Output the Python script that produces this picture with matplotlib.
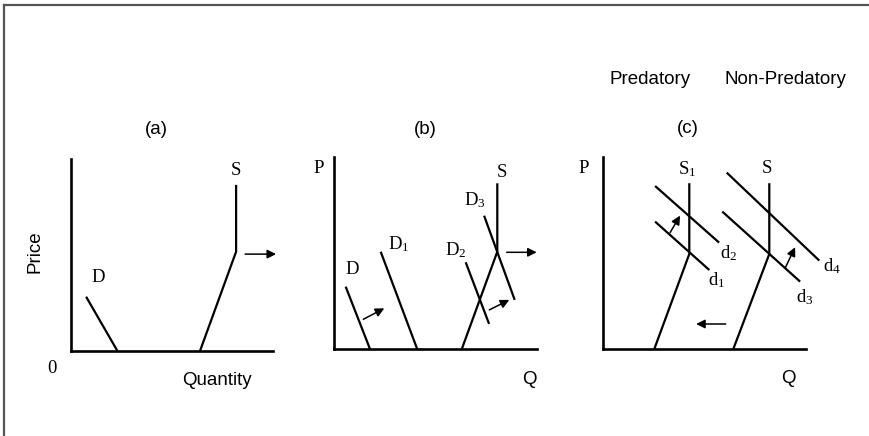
"""
Three supply/demand sketches: (a), (b) and the predatory / non-predatory case (c).
"""

import matplotlib
import matplotlib.pyplot as plt
from matplotlib.lines import Line2D

matplotlib.use('Agg')
plt.rcParams['mathtext.default'] = 'regular'

SANS = 'Liberation Sans'
SERIF = 'Liberation Serif'

# Curves are given as (Q, P) points, origin at the corner of each panel
# panel (a)
a_demand_q = [0.77, 2.33]
a_demand_p = [2.70, 0.0]
a_supply_q = [6.47, 8.27, 8.27]
a_supply_p = [0.0, 4.95, 8.29]

# panel (b)
b_demand = {
    'D': ([0.57, 1.79], [3.13, 0.0]),
    'D$_1$': ([2.32, 4.15], [4.88, 0.0]),
    'D$_2$': ([6.57, 7.74], [4.35, 1.27]),
    'D$_3$': ([7.49, 9.02], [6.68, 2.47]),
}
b_supply_q = [6.37, 8.15, 8.15]
b_supply_p = [0.0, 4.88, 8.30]

# panel (c)
c_supply = {
    'S$_1$': ([2.55, 4.30, 4.30], [0.0, 4.75, 8.29]),
    'S': ([6.50, 8.30, 8.30], [0.0, 4.75, 8.29]),
}
c_demand = {
    'd$_1$': ([2.59, 5.30], [6.37, 3.95]),
    'd$_2$': ([2.59, 5.79], [8.15, 5.32]),
    'd$_3$': ([5.95, 9.84], [6.87, 3.37]),
    'd$_4$': ([6.17, 10.80], [8.82, 4.42]),
}

# label positions (Q, P)
b_demand_labels = {'D': (0.92, 3.97), 'D$_1$': (3.22, 5.27),
                   'D$_2$': (6.05, 4.97), 'D$_3$': (7.05, 7.47)}
c_supply_labels = {'S$_1$': (4.18, 8.99), 'S': (8.17, 9.04)}
c_demand_labels = {'d$_1$': (5.67, 3.45), 'd$_2$': (6.29, 4.79),
                   'd$_3$': (10.09, 2.59), 'd$_4$': (11.44, 4.12)}

W, H = 869, 436
UNIT = 20.0  # pixels per data unit


def make_panel(fig, x0, y0, w, h):
    """Axes whose lower-left corner sits at pixel (x0, y0) from top-left."""
    ax = fig.add_axes([x0 / W, (H - y0) / H, w / W, h / H])
    ax.set_xlim(0, w / UNIT)
    ax.set_ylim(0, h / UNIT)
    for side in ['top', 'right']:
        ax.spines[side].set_visible(False)
    for side in ['left', 'bottom']:
        ax.spines[side].set_linewidth(1.9)
    ax.set_xticks([])
    ax.set_yticks([])
    ax.patch.set_alpha(0)
    return ax


def curve(ax, q, p):
    ax.plot(q, p, color='black', lw=1.6, solid_capstyle='butt', clip_on=False)


def arrow(ax, start, end):
    ax.annotate('', xy=end, xytext=start, annotation_clip=False,
                arrowprops=dict(arrowstyle='-|>', color='black', lw=1.1,
                                mutation_scale=13, shrinkA=0, shrinkB=0))


def serif(ax, x, y, s):
    ax.text(x, y, s, family=SERIF, fontsize=13.5, ha='center', va='center')


def sans(ax, x, y, s, **kw):
    ax.text(x, y, s, family=SANS, fontsize=13.5, ha='center', va='center', **kw)


fig = plt.figure(figsize=(W / 100, H / 100), dpi=100)

# frame of the picture (top and left edges only)
fig.add_artist(Line2D([4 / W, 1], [1 - 5 / H, 1 - 5 / H], color='#555555',
                      lw=1.6, transform=fig.transFigure))
fig.add_artist(Line2D([4 / W, 4 / W], [0, 1 - 5 / H], color='#555555',
                      lw=1.6, transform=fig.transFigure))

# (a)
ax = make_panel(fig, 70.7, 350.7, 202, 191.4)
curve(ax, a_demand_q, a_demand_p)
curve(ax, a_supply_q, a_supply_p)
arrow(ax, (8.72, 4.83), (10.27, 4.83))
serif(ax, 8.27, 9.0, 'S')
serif(ax, 1.37, 3.67, 'D')
serif(ax, -0.95, -0.88, '0')
sans(ax, -1.78, 4.95, 'Price', rotation=90)
sans(ax, 7.3, -1.5, 'Quantity')
sans(ax, 4.3, 11.07, '(a)')

# (b)
ax = make_panel(fig, 334.3, 349.3, 202.4, 192)
for name, (q, p) in b_demand.items():
    curve(ax, q, p)
    serif(ax, *b_demand_labels[name], name)
curve(ax, b_supply_q, b_supply_p)
arrow(ax, (8.62, 4.85), (10.12, 4.85))
arrow(ax, (1.45, 1.50), (2.50, 2.05))
arrow(ax, (7.75, 1.97), (8.75, 2.47))
serif(ax, -0.8, 9.05, 'P')
serif(ax, 8.37, 8.83, 'S')
sans(ax, 9.75, -1.5, 'Q')
sans(ax, 4.53, 11.0, '(b)')

# (c)
ax = make_panel(fig, 603.3, 349, 202.4, 191.7)
for name, (q, p) in c_supply.items():
    curve(ax, q, p)
    serif(ax, *c_supply_labels[name], name)
for name, (q, p) in c_demand.items():
    curve(ax, q, p)
    serif(ax, *c_demand_labels[name], name)
arrow(ax, (3.34, 5.82), (3.84, 6.67))
arrow(ax, (9.09, 4.04), (9.59, 5.09))
arrow(ax, (6.12, 1.25), (4.64, 1.25))
serif(ax, -1.0, 9.04, 'P')
sans(ax, 9.25, -1.47, 'Q')
sans(ax, 4.25, 11.03, '(c)')
sans(ax, 2.34, 13.49, 'Predatory')
sans(ax, 9.09, 13.49, 'Non-Predatory')

fig.savefig('out.png', dpi=100)
